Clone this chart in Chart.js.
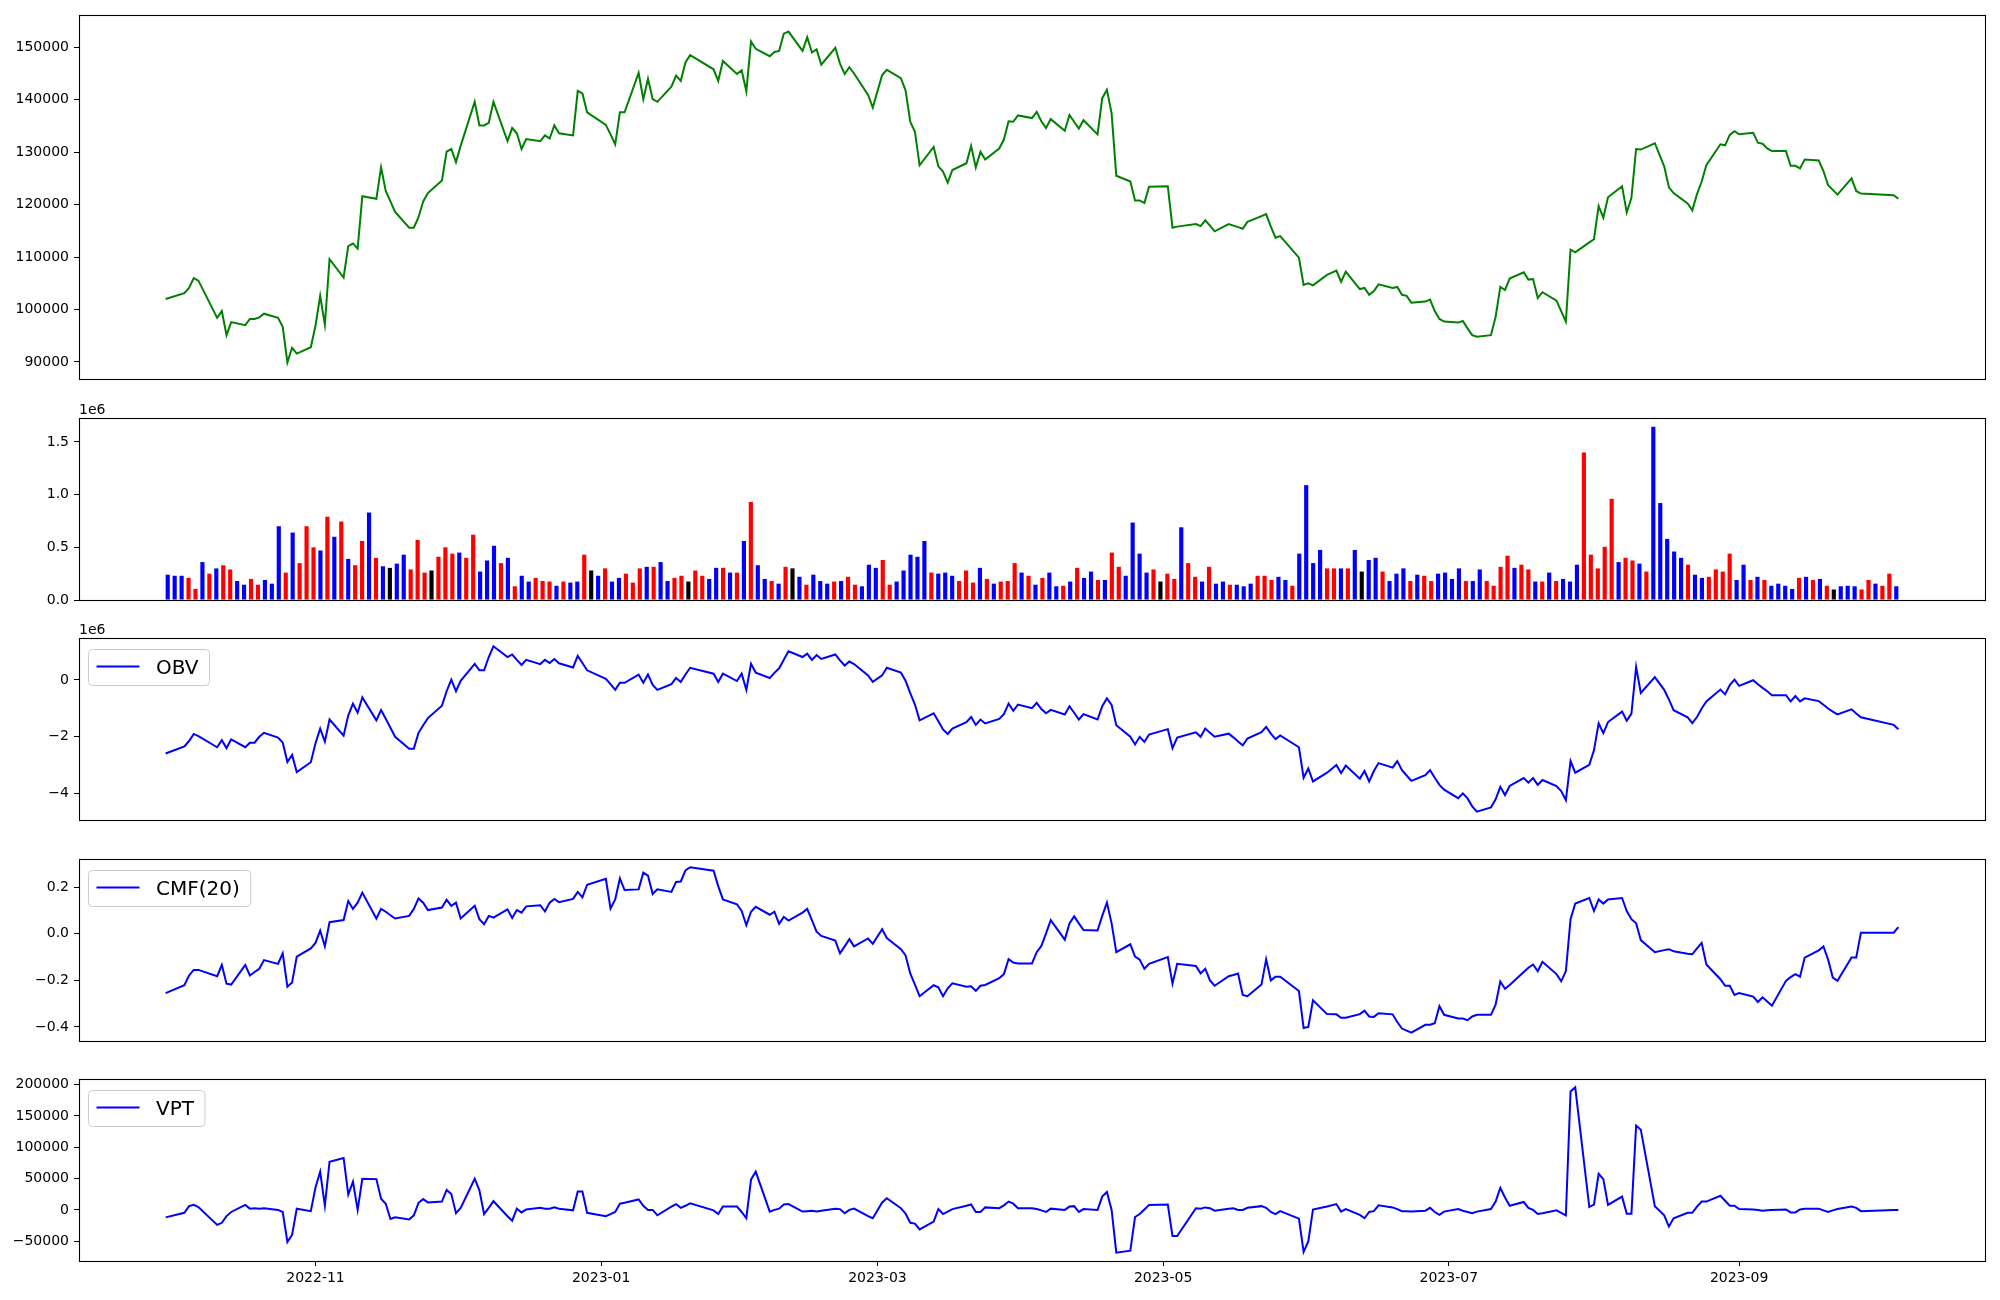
<!DOCTYPE html>
<html>
<head>
<meta charset="utf-8">
<script src="https://cdn.jsdelivr.net/npm/chart.js@4.4.1/dist/chart.umd.min.js"></script>
<style>
html,body{margin:0;padding:0;background:#ffffff;}
body{width:2000px;height:1300px;position:relative;overflow:hidden;}
</style>
</head>
<body>
<script>
// ---------------- DATA ----------------
// Trading days (Korean market) per month
const tradingDays = {
  "2022-09":[30],
  "2022-10":[4,5,6,7,11,12,13,14,17,18,19,20,21,24,25,26,27,28,31],
  "2022-11":[1,2,3,4,7,8,9,10,11,14,15,16,17,18,21,22,23,24,25,28,29,30],
  "2022-12":[1,2,5,6,7,8,9,12,13,14,15,16,19,20,21,22,23,26,27,28,29],
  "2023-01":[2,3,4,5,6,9,10,11,12,13,16,17,18,19,20,25,26,27,30,31],
  "2023-02":[1,2,3,6,7,8,9,10,13,14,15,16,17,20,21,22,23,24,27,28],
  "2023-03":[2,3,6,7,8,9,10,13,14,15,16,17,20,21,22,23,24,27,28,29,30,31],
  "2023-04":[3,4,5,6,7,10,11,12,13,14,17,18,19,20,21,24,25,26,27,28],
  "2023-05":[2,3,4,8,9,10,11,12,15,16,17,18,19,22,23,24,25,26,30,31],
  "2023-06":[1,2,5,7,8,9,12,13,14,15,16,19,20,21,22,23,26,27,28,29,30],
  "2023-07":[3,4,5,6,7,10,11,12,13,14,17,18,19,20,21,24,25,26,27,28,31],
  "2023-08":[1,2,3,4,7,8,9,10,11,14,16,17,18,21,22,23,24,25,28,29,30,31],
  "2023-09":[1,4,5,6,7,8,11,12,13,14,15,18,19,20,21,22,25,26,27],
  "2023-10":[4,5]
};

const closePrice = [
102000,103100,104100,106000,105500,98400,99700,95100,97600,97000,
98200,98200,98500,99200,98400,96700,89900,92700,91600,92800,
96900,102600,97100,109600,106100,112100,112600,111600,121600,121100,
127100,122600,120600,118600,115600,115600,117600,120600,122200,124600,
130100,130600,128100,131200,139600,135100,135100,135600,139600,132100,
134600,133600,130600,132500,132100,133200,132600,135100,133600,133200,
141700,141200,137600,135200,133400,131500,137600,137600,145100,140100,
144000,140100,139600,142500,144600,143600,147100,148500,145800,143600,
147400,144900,145600,141600,151100,149700,148300,149100,149300,152600,
153000,149300,151900,149000,149600,146700,149900,146900,144900,146200,
145000,140900,138500,144700,145700,144100,141800,135800,133900,127500,
131000,127300,126300,124200,126600,127900,131200,127100,130100,128600,
130700,132400,135900,135800,137000,136500,137700,135900,134600,136300,
134100,137100,135800,134500,136100,133400,140300,141900,137400,125500,
124400,120800,120800,120300,123400,123500,115600,115800,116300,115900,
117000,116000,114900,116300,116000,115700,115400,116700,117800,118200,
115800,113700,114000,109900,104700,105000,104600,106600,107400,105300,
107200,103900,104100,102800,103500,104800,104100,104300,102800,102600,
101300,101500,101900,99700,98200,97700,97500,97800,96400,95100,
94800,95100,98600,104300,103700,105900,107100,105700,105800,102200,
103300,101700,99700,97700,111400,110900,112800,113400,119700,117500,
121400,123500,118500,121300,130600,130500,131700,127300,123300,122200,
120200,118900,122000,124400,127500,131500,131300,133300,134000,133400,
133700,131800,131600,130700,130200,130200,127400,127400,126900,128600,
128400,126400,123700,122800,121900,125000,122600,122100,121800,121100
];

// Volume in millions (axis offset "1e6")
const volumeM = [
0.24,0.23,0.23,0.21,0.105,0.36,0.25,0.30,0.33,0.29,
0.18,0.145,0.20,0.145,0.19,0.155,0.70,0.26,0.64,0.35,
0.70,0.50,0.47,0.79,0.60,0.745,0.39,0.33,0.56,0.83,
0.40,0.32,0.305,0.345,0.43,0.29,0.57,0.26,0.28,0.41,
0.50,0.44,0.45,0.40,0.62,0.27,0.375,0.515,0.35,0.40,
0.13,0.23,0.175,0.21,0.18,0.175,0.135,0.175,0.165,0.175,
0.43,0.28,0.23,0.30,0.175,0.21,0.25,0.165,0.30,0.315,
0.315,0.36,0.18,0.21,0.23,0.175,0.28,0.23,0.20,0.305,
0.305,0.26,0.26,0.56,0.93,0.33,0.20,0.18,0.155,0.315,
0.30,0.22,0.145,0.24,0.18,0.155,0.175,0.18,0.22,0.145,
0.13,0.335,0.305,0.38,0.145,0.175,0.28,0.43,0.41,0.56,
0.26,0.25,0.26,0.23,0.18,0.28,0.165,0.305,0.20,0.155,
0.175,0.18,0.35,0.26,0.23,0.145,0.21,0.26,0.13,0.135,
0.175,0.305,0.21,0.27,0.19,0.19,0.45,0.315,0.23,0.735,
0.44,0.26,0.29,0.175,0.25,0.20,0.69,0.35,0.22,0.175,
0.315,0.155,0.175,0.145,0.145,0.13,0.155,0.23,0.23,0.19,
0.22,0.19,0.135,0.44,1.09,0.35,0.475,0.30,0.30,0.30,
0.30,0.475,0.27,0.38,0.40,0.27,0.18,0.25,0.30,0.18,
0.24,0.23,0.18,0.25,0.26,0.20,0.30,0.18,0.18,0.29,
0.18,0.135,0.315,0.42,0.305,0.335,0.29,0.175,0.175,0.26,
0.18,0.20,0.175,0.335,1.40,0.43,0.30,0.505,0.96,0.36,
0.40,0.375,0.345,0.27,1.645,0.92,0.58,0.46,0.40,0.335,
0.24,0.21,0.22,0.29,0.27,0.44,0.19,0.335,0.19,0.22,
0.19,0.135,0.155,0.135,0.105,0.21,0.22,0.19,0.20,0.135,
0.10,0.13,0.135,0.13,0.10,0.19,0.155,0.135,0.25,0.13
];

// Bar colour codes: r = up, b = down, k = unchanged
const volumeDirection = [
"bbbrrbrbrr","bbrrbbbrbr","rrbrbrbrrb","rbkbbrrrkr","rrbrrbbbrb",
"rbbrrrbrbb","rkbrbbrrrb","rbbrrkrrbb","rbrbrbbrbr","kbrbbbrbrr",
"bbbrrbbbbb","rbbbrrrbrb","rrrbrbrbbr","brbbrbrrbb","bbrkrrbrrb",
"rbbrbbbrrr","bbrbbbbrrb","rbkbbrbbbr","brrbbbbrbb","rrrrbrrbrb",
"rbbbrrrrrb","rrbrbbbbbr","bbrrrrbbrb","rbbbbrbrbr","kbbbrrbrrb"
].join("");

// OBV in millions (axis offset "1e6")
const obvM = [
-2.60,-2.35,-2.16,-1.91,-1.99,-2.38,-2.13,-2.41,-2.10,-2.38,
-2.22,-2.22,-2.01,-1.87,-2.04,-2.21,-2.90,-2.65,-3.26,-2.91,
-2.24,-1.72,-2.18,-1.40,-1.97,-1.25,-0.84,-1.16,-0.62,-1.43,
-1.06,-1.37,-1.69,-2.01,-2.43,-2.43,-1.87,-1.60,-1.35,-0.91,
-0.40,0.01,-0.40,-0.03,0.57,0.34,0.34,0.81,1.19,0.81,
0.90,0.71,0.53,0.71,0.56,0.71,0.60,0.74,0.59,0.44,
0.85,0.60,0.34,0.04,-0.15,-0.35,-0.10,-0.10,0.19,-0.10,
0.19,-0.18,-0.35,-0.15,0.07,-0.07,0.19,0.43,0.22,-0.07,
0.22,-0.04,0.22,-0.35,0.57,0.26,0.07,0.25,0.41,0.71,
1.01,0.81,0.93,0.71,0.88,0.74,0.90,0.69,0.51,0.65,
0.56,0.16,-0.07,0.16,0.43,0.26,-0.03,-0.47,-0.87,-1.43,
-1.18,-1.46,-1.75,-1.91,-1.72,-1.49,-1.31,-1.59,-1.40,-1.54,
-1.38,-1.21,-0.84,-1.09,-0.87,-1.00,-0.81,-1.03,-1.18,-1.06,
-1.22,-0.93,-1.16,-1.40,-1.21,-1.40,-0.93,-0.65,-0.88,-1.60,
-2.01,-2.28,-2.01,-2.19,-1.93,-1.74,-2.41,-2.04,-1.85,-2.01,
-1.72,-1.87,-2.01,-1.90,-2.03,-2.18,-2.31,-2.07,-1.85,-1.66,
-1.90,-2.09,-1.96,-2.38,-3.46,-3.13,-3.59,-3.28,-3.01,-3.29,
-3.03,-3.49,-3.22,-3.59,-3.22,-2.94,-3.10,-2.87,-3.19,-3.38,
-3.57,-3.37,-3.19,-3.46,-3.71,-3.88,-4.18,-4.01,-4.19,-4.47,
-4.66,-4.51,-4.22,-3.78,-4.07,-3.75,-3.47,-3.63,-3.47,-3.71,
-3.54,-3.75,-3.93,-4.25,-2.87,-3.28,-3.00,-2.49,-1.53,-1.88,
-1.49,-1.12,-1.44,-1.19,0.46,-0.46,0.10,-0.35,-0.69,-1.07,
-1.32,-1.53,-1.31,-1.01,-0.76,-0.34,-0.51,-0.18,0.01,-0.21,
-0.01,-0.15,-0.28,-0.40,-0.54,-0.54,-0.76,-0.57,-0.76,-0.65,
-0.75,-0.88,-1.01,-1.12,-1.22,-1.04,-1.19,-1.32,-1.59,-1.74
];

const cmf20 = [
-0.255,-0.221,-0.179,-0.155,-0.155,-0.182,-0.134,-0.214,-0.218,-0.134,
-0.179,-0.164,-0.150,-0.113,-0.129,-0.084,-0.227,-0.209,-0.098,-0.063,
-0.039,0.014,-0.054,0.050,0.059,0.141,0.107,0.134,0.177,0.066,
0.107,0.095,0.080,0.066,0.077,0.107,0.152,0.134,0.102,0.113,
0.146,0.120,0.134,0.066,0.121,0.063,0.041,0.077,0.070,0.105,
0.068,0.102,0.091,0.118,0.123,0.096,0.134,0.150,0.136,0.150,
0.180,0.157,0.211,0.236,0.109,0.148,0.238,0.188,0.191,0.263,
0.250,0.171,0.191,0.180,0.223,0.225,0.273,0.286,0.271,0.205,
0.148,0.127,0.098,0.037,0.095,0.116,0.082,0.095,0.043,0.073,
0.057,0.091,0.107,0.059,0.009,-0.009,-0.029,-0.084,-0.054,-0.023,
-0.054,-0.020,-0.043,0.020,-0.018,-0.066,-0.093,-0.170,-0.218,-0.268,
-0.221,-0.230,-0.268,-0.234,-0.213,-0.227,-0.225,-0.245,-0.223,-0.220,
-0.191,-0.173,-0.109,-0.123,-0.127,-0.127,-0.079,-0.052,0.002,0.059,
-0.025,0.045,0.075,0.045,0.016,0.014,0.077,0.134,0.045,-0.079,
-0.045,-0.098,-0.111,-0.150,-0.129,-0.100,-0.214,-0.129,-0.138,-0.170,
-0.150,-0.200,-0.223,-0.182,-0.177,-0.171,-0.263,-0.268,-0.218,-0.109,
-0.200,-0.184,-0.184,-0.246,-0.405,-0.400,-0.286,-0.345,-0.346,-0.361,
-0.361,-0.345,-0.330,-0.355,-0.357,-0.341,-0.346,-0.379,-0.407,-0.416,
-0.425,-0.391,-0.391,-0.384,-0.311,-0.348,-0.364,-0.364,-0.371,-0.355,
-0.348,-0.348,-0.304,-0.205,-0.236,-0.220,-0.164,-0.146,-0.132,-0.161,
-0.120,-0.173,-0.204,-0.161,0.063,0.130,0.154,0.098,0.148,0.130,
0.148,0.154,0.098,0.063,0.045,-0.027,-0.079,-0.070,-0.066,-0.075,
-0.086,-0.088,-0.063,-0.039,-0.132,-0.195,-0.223,-0.223,-0.263,-0.254,
-0.270,-0.293,-0.273,-0.291,-0.309,-0.202,-0.186,-0.173,-0.184,-0.102,
-0.071,-0.054,-0.111,-0.188,-0.202,-0.102,-0.102,0.005,0.005,0.029
];

const vpt = [
-11900,-4600,6000,8000,4600,-23900,-20600,-9900,-3300,8000,
2000,2700,2000,2700,0,-3300,-51100,-39800,2000,-2000,
35800,61000,6600,76900,82900,24500,45100,0,49700,49100,
17900,9900,-14600,-11900,-15200,-8600,11300,17200,11900,13300,
31800,25200,-5300,3300,49700,31200,-6600,3300,13900,-10000,
-17200,2000,-4000,700,3300,2000,2000,4000,2000,-700,
29200,29200,-4600,-9900,-6600,-3300,9900,11300,16600,6600,
0,0,-8600,5300,9300,3300,6600,10600,-700,-6600,
5300,5300,-3300,-13300,48400,61000,-2700,0,2000,8600,
9300,-2700,-2000,-1300,-2700,-1300,2000,1300,-5300,0,
2000,-9900,-13300,11900,18600,2700,-6000,-20600,-21900,-31200,
-18600,1300,-6600,-2700,1300,6600,8600,-3300,-3300,4000,
2700,7300,13300,9900,2700,2700,1300,-700,-3300,2000,
0,5300,6000,-3300,1300,0,21200,28500,0,-68300,
-65000,-11300,-6600,700,8000,8600,-41800,-41800,2700,2000,
4000,2700,-1300,2000,2700,0,0,3300,6000,3300,
-3300,-6600,-2000,-13900,-67000,-50400,700,5300,9300,-2700,
1300,-8000,-13300,-3300,-2000,7300,4000,1300,-2000,-2000,
-2700,-1300,3300,-3300,-8000,-2700,1300,-1300,-3300,-5300,
-2700,1300,13300,35100,19900,6600,12600,3300,0,-6600,
-5300,-700,-4600,-8600,189000,195600,4600,8600,57700,49100,
8000,21200,-6000,-6000,134600,128000,6000,-8600,-26500,-13300,
-4600,-4600,5300,13300,13300,22500,14600,6600,6600,1300,
700,0,-1300,-700,0,700,-4000,-4000,700,2000,
2000,-700,-3300,-700,1300,5300,3300,-2000,0,0
];

// Tick labels / values
const xTickLabels = ["2022-11","2023-01","2023-03","2023-05","2023-07","2023-09"];
const priceTicks = [90000,100000,110000,120000,130000,140000,150000];
const volumeTicks = [0,0.5,1.0,1.5];
const obvTicks = [-4,-2,0];
const cmfTicks = [-0.4,-0.2,0.0,0.2];
const vptTicks = [-50000,0,50000,100000,150000,200000];

// ---------------- BUILD ----------------
const dates = Object.entries(tradingDays).flatMap(([ym, ds]) =>
  ds.map(d => ym + "-" + String(d).padStart(2, "0")));
const DAY = 86400000;
const t0 = Date.parse(dates[0]);
const toDay = s => (Date.parse(s) - t0) / DAY;
const dayX = dates.map(toDay);
const xSpan = dayX[dayX.length - 1] - dayX[0];
const xMin = dayX[0] - 0.05 * xSpan, xMax = dayX[dayX.length - 1] + 0.05 * xSpan;
const xTickVals = xTickLabels.map(m => toDay(m + "-01"));

const barW = 0.6;
const bLo = -barW / 2, bHi = volumeM.length - 1 + barW / 2;
const bMin = bLo - 0.05 * (bHi - bLo), bMax = bHi + 0.05 * (bHi - bLo);

const colorMap = { r: "#ff0000", b: "#0000ff", k: "#000000" };

function margins(arr) {
  const lo = Math.min(...arr), hi = Math.max(...arr), m = 0.05 * (hi - lo);
  return { min: lo - m, max: hi + m };
}
const minus = s => s.replace("-", "\u2212");

Chart.defaults.font.family = "'DejaVu Sans', sans-serif";
Chart.defaults.color = "#000";

const FONT = { family: "'DejaVu Sans', sans-serif", size: 14 };
const PAD = 20;

function yAxis(range, ticks, fmt) {
  return {
    type: "linear",
    min: range.min, max: range.max,
    afterFit: s => { s.width = 79; },
    afterBuildTicks: s => { s.ticks = ticks.map(v => ({ value: v })); },
    ticks: { callback: v => fmt(v), font: FONT, color: "#000", padding: 5, autoSkip: false },
    grid: { drawOnChartArea: false, drawTicks: true, tickLength: 5, color: "#000", lineWidth: 1 },
    border: { display: false }
  };
}

function framePlugin(opts) {
  return {
    id: "mplFrame",
    afterDraw(chart) {
      const { ctx, chartArea: a } = chart;
      ctx.save();
      ctx.strokeStyle = "#000";
      ctx.lineWidth = 1.1;
      ctx.strokeRect(Math.round(a.left) + 0.5, Math.round(a.top) + 0.5,
        Math.round(a.right - a.left), Math.round(a.bottom - a.top));
      if (opts.offsetText) {
        ctx.fillStyle = "#000";
        ctx.font = "14px 'DejaVu Sans'";
        ctx.textAlign = "left";
        ctx.textBaseline = "alphabetic";
        ctx.fillText(opts.offsetText, a.left, a.top - 4);
      }
      if (opts.legend) {
        const label = opts.legend.label;
        ctx.font = "20px 'DejaVu Sans'";
        const tw = ctx.measureText(label).width;
        const x = a.left + 9.5, y = a.top + 11.5, w = 67.5 + tw + 11, h = 36, r = 4;
        ctx.beginPath();
        ctx.moveTo(x + r, y);
        ctx.lineTo(x + w - r, y); ctx.arcTo(x + w, y, x + w, y + r, r);
        ctx.lineTo(x + w, y + h - r); ctx.arcTo(x + w, y + h, x + w - r, y + h, r);
        ctx.lineTo(x + r, y + h); ctx.arcTo(x, y + h, x, y + h - r, r);
        ctx.lineTo(x, y + r); ctx.arcTo(x, y, x + r, y, r);
        ctx.closePath();
        ctx.fillStyle = "rgba(255,255,255,0.8)";
        ctx.fill();
        ctx.strokeStyle = "#cccccc";
        ctx.lineWidth = 1;
        ctx.stroke();
        ctx.beginPath();
        ctx.strokeStyle = opts.legend.color;
        ctx.lineWidth = 2;
        ctx.moveTo(x + 8, y + 17); ctx.lineTo(x + 51, y + 17);
        ctx.stroke();
        ctx.fillStyle = "#000";
        ctx.textAlign = "left";
        ctx.textBaseline = "alphabetic";
        ctx.fillText(label, x + 67.5, y + 24.5);
      }
      ctx.restore();
    }
  };
}

function makePanel(top, height, extraBottom, config, opts) {
  const div = document.createElement("div");
  const H = height + 2 * PAD + extraBottom;
  div.style.cssText = "position:absolute;left:0;top:" + (top - PAD) + "px;width:2000px;height:" + H + "px;";
  const c = document.createElement("canvas");
  c.width = 2000; c.height = H;
  c.style.width = "2000px"; c.style.height = H + "px";
  div.appendChild(c);
  document.body.appendChild(div);
  config.options = Object.assign({
    responsive: false,
    animation: false,
    devicePixelRatio: 1,
    layout: { padding: { left: 0, right: 15, top: PAD, bottom: PAD } },
    plugins: { legend: { display: false }, tooltip: { enabled: false } }
  }, config.options);
  config.plugins = [framePlugin(opts || {})];
  return new Chart(c, config);
}

function hiddenDateX() {
  return { type: "linear", min: xMin, max: xMax, display: false };
}

function lineData(values, color) {
  return {
    datasets: [{
      data: values.map((v, i) => ({ x: dayX[i], y: v })),
      borderColor: color, borderWidth: 2, pointRadius: 0, fill: false, tension: 0
    }]
  };
}

// Price
makePanel(15, 364, 0, {
  type: "line",
  data: lineData(closePrice, "#008000"),
  options: { scales: { x: hiddenDateX(), y: yAxis(margins(closePrice), priceTicks, v => String(v)) } }
});

// Volume (plotted against trading-day index)
makePanel(418, 182, 0, {
  type: "bar",
  data: {
    datasets: [{
      data: volumeM.map((v, i) => ({ x: i, y: v })),
      backgroundColor: volumeM.map((v, i) => colorMap[volumeDirection[i]]),
      borderWidth: 0, categoryPercentage: 1.0, barPercentage: barW
    }]
  },
  options: {
    scales: {
      x: { type: "linear", min: bMin, max: bMax, offset: false, display: false },
      y: yAxis({ min: 0, max: Math.max(...volumeM) * 1.05 }, volumeTicks, v => v.toFixed(1))
    }
  }
}, { offsetText: "1e6" });

// OBV
makePanel(638, 182, 0, {
  type: "line",
  data: lineData(obvM, "#0000ff"),
  options: { scales: { x: hiddenDateX(), y: yAxis(margins(obvM), obvTicks, v => minus(String(v))) } }
}, { offsetText: "1e6", legend: { label: "OBV", color: "#0000ff" } });

// CMF(20)
makePanel(859, 182, 0, {
  type: "line",
  data: lineData(cmf20, "#0000ff"),
  options: { scales: { x: hiddenDateX(), y: yAxis(margins(cmf20), cmfTicks, v => minus(v.toFixed(1))) } }
}, { legend: { label: "CMF(20)", color: "#0000ff" } });

// VPT (with date axis)
makePanel(1079, 182, 30, {
  type: "line",
  data: lineData(vpt, "#0000ff"),
  options: {
    layout: { padding: { left: 0, right: 15, top: PAD, bottom: 10 } },
    scales: {
      x: {
        type: "linear", min: xMin, max: xMax,
        afterFit: s => { s.height = 30 + PAD - 10; },
        afterBuildTicks: s => { s.ticks = xTickVals.map(v => ({ value: v })); },
        ticks: {
          callback: v => xTickLabels[xTickVals.indexOf(v)],
          font: FONT, color: "#000", padding: 4, autoSkip: false, maxRotation: 0, minRotation: 0
        },
        grid: { drawOnChartArea: false, drawTicks: true, tickLength: 5, color: "#000", lineWidth: 1 },
        border: { display: false }
      },
      y: yAxis(margins(vpt), vptTicks, v => minus(String(v)))
    }
  }
}, { legend: { label: "VPT", color: "#0000ff" } });
</script>
</body>
</html>
